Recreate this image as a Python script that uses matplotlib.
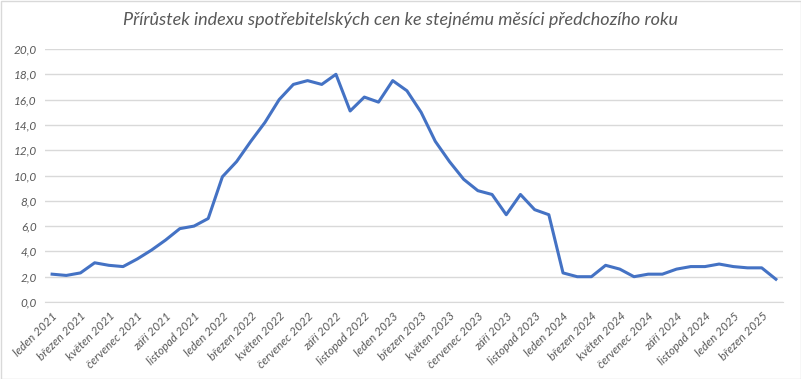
import matplotlib
matplotlib.use("Agg")
import matplotlib.pyplot as plt
from matplotlib.patches import Rectangle

months_cz = ["leden", "únor", "březen", "duben", "květen", "červen",
             "červenec", "srpen", "září", "říjen", "listopad", "prosinec"]
years = [2021, 2022, 2023, 2024, 2025]

values = [
    2.2, 2.1, 2.3, 3.1, 2.9, 2.8, 3.4, 4.1, 4.9, 5.8, 6.0, 6.6,
    9.9, 11.1, 12.7, 14.2, 16.0, 17.2, 17.5, 17.2, 18.0, 15.1, 16.2, 15.8,
    17.5, 16.7, 15.0, 12.7, 11.1, 9.7, 8.8, 8.5, 6.9, 8.5, 7.3, 6.9,
    2.3, 2.0, 2.0, 2.9, 2.6, 2.0, 2.2, 2.2, 2.6, 2.8, 2.8, 3.0,
    2.8, 2.7, 2.7, 1.8,
]
categories = [f"{months_cz[i % 12]} {years[i // 12]}" for i in range(len(values))]
yticks = [0, 2, 4, 6, 8, 10, 12, 14, 16, 18, 20]
title = "Přírůstek indexu spotřebitelských cen ke stejnému měsíci předchozího roku"

plt.rcParams['font.family'] = ['Lato', 'DejaVu Sans']
gray = "#595959"

fig = plt.figure(figsize=(8.01, 3.79), dpi=100)
ax = fig.add_axes([45/801, 1-302/379, (783-45)/801, (302-49)/379])

x = list(range(len(values)))
ax.plot(x, values, color="#4472C4", linewidth=2.2, solid_joinstyle="round")

ax.set_xlim(-0.5, len(values) - 0.5)
ax.set_ylim(0, 20)
ax.set_yticks(yticks)
ax.set_yticklabels([f"{v:.1f}".replace(".", ",") for v in yticks],
                   fontsize=8.5, color=gray, style="italic")
ax.yaxis.grid(True, color="#D9D9D9", linewidth=1)
ax.set_axisbelow(True)

ax.set_xticks(x[::2])
ax.set_xticklabels(categories[::2], rotation=45, ha="right", va="top",
                   rotation_mode="anchor", fontsize=8.5, color=gray, style="italic")
ax.tick_params(axis="both", length=0)
ax.tick_params(axis="y", pad=6)
ax.tick_params(axis="x", pad=6)

for s in ["top", "right", "left"]:
    ax.spines[s].set_visible(False)
ax.spines["bottom"].set_color("#D9D9D9")

fig.text(0.5, 1-20/379, title, ha="center", va="center", fontsize=13,
         color=gray, style="italic")

fig.patches.append(Rectangle((0.5/801, 0.5/379), 1-1/801, 1-1/379, transform=fig.transFigure,
                             fill=False, edgecolor="#D9D9D9", linewidth=1))

fig.savefig("out.png", dpi=100)
